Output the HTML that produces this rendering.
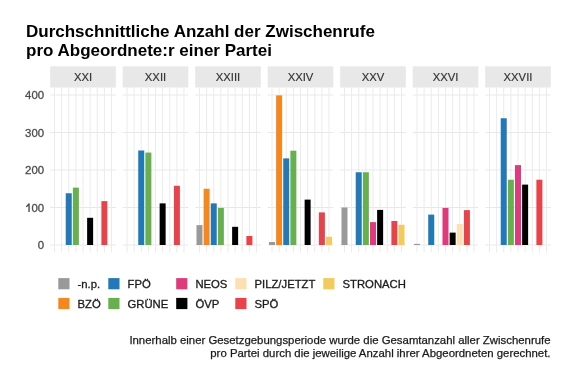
<!DOCTYPE html>
<html><head><meta charset="utf-8"><style>
html,body{margin:0;padding:0;background:#fff;width:576px;height:384px;overflow:hidden}
svg{display:block}
#w{width:576px;height:384px;will-change:transform}
text{font-family:'Liberation Sans',sans-serif}
.t{font-size:17px;font-weight:bold;fill:#000}
.ax{font-size:11.4px;fill:#4d4d4d;stroke:#4d4d4d;stroke-width:0.3px}
.st{font-size:11.3px;fill:#333;stroke:#333;stroke-width:0.15px}
.lg{font-size:11.3px;fill:#1a1a1a;stroke:#1a1a1a;stroke-width:0.3px}
.cap{font-size:11.39px;fill:#1a1a1a;stroke:#1a1a1a;stroke-width:0.25px}
</style></head><body><div id="w">
<svg width="576" height="384" viewBox="0 0 576 384">
<rect width="576" height="384" fill="#fff"/>
<text x="26" y="36.8" class="t">Durchschnittliche Anzahl der Zwischenrufe</text>
<text x="26" y="55.9" class="t">pro Abgeordnete:r einer Partei</text>
<text x="44.1" y="249.10" text-anchor="end" class="ax">0</text>
<text x="44.1" y="211.60" text-anchor="end" class="ax">00</text>
<path d="M28.1 203.5 L29.75 203.5 L29.75 212 L28.35 212 L28.35 206.0 Q27.3 206.9 26.0 207.2 L26.0 205.9 Q27.5 205.2 28.1 203.5 Z" fill="#4d4d4d"/>
<text x="44.1" y="174.10" text-anchor="end" class="ax">200</text>
<text x="44.1" y="136.60" text-anchor="end" class="ax">300</text>
<text x="44.1" y="99.10" text-anchor="end" class="ax">400</text>
<rect x="50.20" y="66.3" width="65.60" height="21.20" fill="#e8e8e8"/>
<text x="83.00" y="81" text-anchor="middle" class="st">XXI</text>
<rect x="50.20" y="244.55" width="65.60" height="0.9" fill="#e6e6e6"/>
<rect x="50.20" y="207.05" width="65.60" height="0.9" fill="#e6e6e6"/>
<rect x="50.20" y="169.55" width="65.60" height="0.9" fill="#e6e6e6"/>
<rect x="50.20" y="132.05" width="65.60" height="0.9" fill="#e6e6e6"/>
<rect x="50.20" y="94.55" width="65.60" height="0.9" fill="#e6e6e6"/>
<rect x="53.98" y="87.5" width="1" height="165.00" fill="#ebebeb"/>
<rect x="61.11" y="87.5" width="1" height="165.00" fill="#ebebeb"/>
<rect x="68.24" y="87.5" width="1" height="165.00" fill="#ebebeb"/>
<rect x="75.37" y="87.5" width="1" height="165.00" fill="#ebebeb"/>
<rect x="82.50" y="87.5" width="1" height="165.00" fill="#ebebeb"/>
<rect x="89.63" y="87.5" width="1" height="165.00" fill="#ebebeb"/>
<rect x="96.76" y="87.5" width="1" height="165.00" fill="#ebebeb"/>
<rect x="103.89" y="87.5" width="1" height="165.00" fill="#ebebeb"/>
<rect x="111.02" y="87.5" width="1" height="165.00" fill="#ebebeb"/>
<rect x="65.74" y="193.25" width="6.00" height="51.75" fill="#2378B7"/>
<rect x="72.87" y="187.62" width="6.00" height="57.38" fill="#68B04E"/>
<rect x="87.13" y="217.81" width="6.00" height="27.19" fill="#000000"/>
<rect x="101.39" y="201.12" width="6.00" height="43.88" fill="#E8434B"/>
<rect x="122.70" y="66.3" width="65.60" height="21.20" fill="#e8e8e8"/>
<text x="155.50" y="81" text-anchor="middle" class="st">XXII</text>
<rect x="122.70" y="244.55" width="65.60" height="0.9" fill="#e6e6e6"/>
<rect x="122.70" y="207.05" width="65.60" height="0.9" fill="#e6e6e6"/>
<rect x="122.70" y="169.55" width="65.60" height="0.9" fill="#e6e6e6"/>
<rect x="122.70" y="132.05" width="65.60" height="0.9" fill="#e6e6e6"/>
<rect x="122.70" y="94.55" width="65.60" height="0.9" fill="#e6e6e6"/>
<rect x="126.48" y="87.5" width="1" height="165.00" fill="#ebebeb"/>
<rect x="133.61" y="87.5" width="1" height="165.00" fill="#ebebeb"/>
<rect x="140.74" y="87.5" width="1" height="165.00" fill="#ebebeb"/>
<rect x="147.87" y="87.5" width="1" height="165.00" fill="#ebebeb"/>
<rect x="155.00" y="87.5" width="1" height="165.00" fill="#ebebeb"/>
<rect x="162.13" y="87.5" width="1" height="165.00" fill="#ebebeb"/>
<rect x="169.26" y="87.5" width="1" height="165.00" fill="#ebebeb"/>
<rect x="176.39" y="87.5" width="1" height="165.00" fill="#ebebeb"/>
<rect x="183.52" y="87.5" width="1" height="165.00" fill="#ebebeb"/>
<rect x="138.24" y="150.50" width="6.00" height="94.50" fill="#2378B7"/>
<rect x="145.37" y="152.56" width="6.00" height="92.44" fill="#68B04E"/>
<rect x="159.63" y="203.38" width="6.00" height="41.62" fill="#000000"/>
<rect x="173.89" y="185.75" width="6.00" height="59.25" fill="#E8434B"/>
<rect x="195.20" y="66.3" width="65.60" height="21.20" fill="#e8e8e8"/>
<text x="228.00" y="81" text-anchor="middle" class="st">XXIII</text>
<rect x="195.20" y="244.55" width="65.60" height="0.9" fill="#e6e6e6"/>
<rect x="195.20" y="207.05" width="65.60" height="0.9" fill="#e6e6e6"/>
<rect x="195.20" y="169.55" width="65.60" height="0.9" fill="#e6e6e6"/>
<rect x="195.20" y="132.05" width="65.60" height="0.9" fill="#e6e6e6"/>
<rect x="195.20" y="94.55" width="65.60" height="0.9" fill="#e6e6e6"/>
<rect x="198.98" y="87.5" width="1" height="165.00" fill="#ebebeb"/>
<rect x="206.11" y="87.5" width="1" height="165.00" fill="#ebebeb"/>
<rect x="213.24" y="87.5" width="1" height="165.00" fill="#ebebeb"/>
<rect x="220.37" y="87.5" width="1" height="165.00" fill="#ebebeb"/>
<rect x="227.50" y="87.5" width="1" height="165.00" fill="#ebebeb"/>
<rect x="234.63" y="87.5" width="1" height="165.00" fill="#ebebeb"/>
<rect x="241.76" y="87.5" width="1" height="165.00" fill="#ebebeb"/>
<rect x="248.89" y="87.5" width="1" height="165.00" fill="#ebebeb"/>
<rect x="256.02" y="87.5" width="1" height="165.00" fill="#ebebeb"/>
<rect x="196.48" y="225.12" width="6.00" height="19.88" fill="#999999"/>
<rect x="203.61" y="188.75" width="6.00" height="56.25" fill="#F5871F"/>
<rect x="210.74" y="203.38" width="6.00" height="41.62" fill="#2378B7"/>
<rect x="217.87" y="207.88" width="6.00" height="37.12" fill="#68B04E"/>
<rect x="232.13" y="226.81" width="6.00" height="18.19" fill="#000000"/>
<rect x="246.39" y="236.00" width="6.00" height="9.00" fill="#E8434B"/>
<rect x="267.70" y="66.3" width="65.60" height="21.20" fill="#e8e8e8"/>
<text x="300.50" y="81" text-anchor="middle" class="st">XXIV</text>
<rect x="267.70" y="244.55" width="65.60" height="0.9" fill="#e6e6e6"/>
<rect x="267.70" y="207.05" width="65.60" height="0.9" fill="#e6e6e6"/>
<rect x="267.70" y="169.55" width="65.60" height="0.9" fill="#e6e6e6"/>
<rect x="267.70" y="132.05" width="65.60" height="0.9" fill="#e6e6e6"/>
<rect x="267.70" y="94.55" width="65.60" height="0.9" fill="#e6e6e6"/>
<rect x="271.48" y="87.5" width="1" height="165.00" fill="#ebebeb"/>
<rect x="278.61" y="87.5" width="1" height="165.00" fill="#ebebeb"/>
<rect x="285.74" y="87.5" width="1" height="165.00" fill="#ebebeb"/>
<rect x="292.87" y="87.5" width="1" height="165.00" fill="#ebebeb"/>
<rect x="300.00" y="87.5" width="1" height="165.00" fill="#ebebeb"/>
<rect x="307.13" y="87.5" width="1" height="165.00" fill="#ebebeb"/>
<rect x="314.26" y="87.5" width="1" height="165.00" fill="#ebebeb"/>
<rect x="321.39" y="87.5" width="1" height="165.00" fill="#ebebeb"/>
<rect x="328.52" y="87.5" width="1" height="165.00" fill="#ebebeb"/>
<rect x="268.98" y="242.00" width="6.00" height="3.00" fill="#999999"/>
<rect x="276.11" y="95.38" width="6.00" height="149.62" fill="#F5871F"/>
<rect x="283.24" y="158.38" width="6.00" height="86.62" fill="#2378B7"/>
<rect x="290.37" y="150.69" width="6.00" height="94.31" fill="#68B04E"/>
<rect x="304.63" y="199.62" width="6.00" height="45.38" fill="#000000"/>
<rect x="318.89" y="212.38" width="6.00" height="32.62" fill="#E8434B"/>
<rect x="326.02" y="236.75" width="6.00" height="8.25" fill="#F1CB5E"/>
<rect x="340.20" y="66.3" width="65.60" height="21.20" fill="#e8e8e8"/>
<text x="373.00" y="81" text-anchor="middle" class="st">XXV</text>
<rect x="340.20" y="244.55" width="65.60" height="0.9" fill="#e6e6e6"/>
<rect x="340.20" y="207.05" width="65.60" height="0.9" fill="#e6e6e6"/>
<rect x="340.20" y="169.55" width="65.60" height="0.9" fill="#e6e6e6"/>
<rect x="340.20" y="132.05" width="65.60" height="0.9" fill="#e6e6e6"/>
<rect x="340.20" y="94.55" width="65.60" height="0.9" fill="#e6e6e6"/>
<rect x="343.98" y="87.5" width="1" height="165.00" fill="#ebebeb"/>
<rect x="351.11" y="87.5" width="1" height="165.00" fill="#ebebeb"/>
<rect x="358.24" y="87.5" width="1" height="165.00" fill="#ebebeb"/>
<rect x="365.37" y="87.5" width="1" height="165.00" fill="#ebebeb"/>
<rect x="372.50" y="87.5" width="1" height="165.00" fill="#ebebeb"/>
<rect x="379.63" y="87.5" width="1" height="165.00" fill="#ebebeb"/>
<rect x="386.76" y="87.5" width="1" height="165.00" fill="#ebebeb"/>
<rect x="393.89" y="87.5" width="1" height="165.00" fill="#ebebeb"/>
<rect x="401.02" y="87.5" width="1" height="165.00" fill="#ebebeb"/>
<rect x="341.48" y="207.50" width="6.00" height="37.50" fill="#999999"/>
<rect x="355.74" y="172.25" width="6.00" height="72.75" fill="#2378B7"/>
<rect x="362.87" y="172.25" width="6.00" height="72.75" fill="#68B04E"/>
<rect x="370.00" y="222.12" width="6.00" height="22.88" fill="#DE3A7C"/>
<rect x="377.13" y="209.90" width="6.00" height="35.10" fill="#000000"/>
<rect x="391.39" y="221.00" width="6.00" height="24.00" fill="#E8434B"/>
<rect x="398.52" y="224.75" width="6.00" height="20.25" fill="#F1CB5E"/>
<rect x="412.70" y="66.3" width="65.60" height="21.20" fill="#e8e8e8"/>
<text x="445.50" y="81" text-anchor="middle" class="st">XXVI</text>
<rect x="412.70" y="244.55" width="65.60" height="0.9" fill="#e6e6e6"/>
<rect x="412.70" y="207.05" width="65.60" height="0.9" fill="#e6e6e6"/>
<rect x="412.70" y="169.55" width="65.60" height="0.9" fill="#e6e6e6"/>
<rect x="412.70" y="132.05" width="65.60" height="0.9" fill="#e6e6e6"/>
<rect x="412.70" y="94.55" width="65.60" height="0.9" fill="#e6e6e6"/>
<rect x="416.48" y="87.5" width="1" height="165.00" fill="#ebebeb"/>
<rect x="423.61" y="87.5" width="1" height="165.00" fill="#ebebeb"/>
<rect x="430.74" y="87.5" width="1" height="165.00" fill="#ebebeb"/>
<rect x="437.87" y="87.5" width="1" height="165.00" fill="#ebebeb"/>
<rect x="445.00" y="87.5" width="1" height="165.00" fill="#ebebeb"/>
<rect x="452.13" y="87.5" width="1" height="165.00" fill="#ebebeb"/>
<rect x="459.26" y="87.5" width="1" height="165.00" fill="#ebebeb"/>
<rect x="466.39" y="87.5" width="1" height="165.00" fill="#ebebeb"/>
<rect x="473.52" y="87.5" width="1" height="165.00" fill="#ebebeb"/>
<rect x="413.98" y="243.88" width="6.00" height="1.12" fill="#999999"/>
<rect x="428.24" y="214.62" width="6.00" height="30.38" fill="#2378B7"/>
<rect x="442.50" y="207.88" width="6.00" height="37.12" fill="#DE3A7C"/>
<rect x="449.63" y="232.62" width="6.00" height="12.38" fill="#000000"/>
<rect x="456.76" y="224.00" width="6.00" height="21.00" fill="#FCE0B4"/>
<rect x="463.89" y="210.12" width="6.00" height="34.88" fill="#E8434B"/>
<rect x="485.20" y="66.3" width="65.60" height="21.20" fill="#e8e8e8"/>
<text x="518.00" y="81" text-anchor="middle" class="st">XXVII</text>
<rect x="485.20" y="244.55" width="65.60" height="0.9" fill="#e6e6e6"/>
<rect x="485.20" y="207.05" width="65.60" height="0.9" fill="#e6e6e6"/>
<rect x="485.20" y="169.55" width="65.60" height="0.9" fill="#e6e6e6"/>
<rect x="485.20" y="132.05" width="65.60" height="0.9" fill="#e6e6e6"/>
<rect x="485.20" y="94.55" width="65.60" height="0.9" fill="#e6e6e6"/>
<rect x="488.98" y="87.5" width="1" height="165.00" fill="#ebebeb"/>
<rect x="496.11" y="87.5" width="1" height="165.00" fill="#ebebeb"/>
<rect x="503.24" y="87.5" width="1" height="165.00" fill="#ebebeb"/>
<rect x="510.37" y="87.5" width="1" height="165.00" fill="#ebebeb"/>
<rect x="517.50" y="87.5" width="1" height="165.00" fill="#ebebeb"/>
<rect x="524.63" y="87.5" width="1" height="165.00" fill="#ebebeb"/>
<rect x="531.76" y="87.5" width="1" height="165.00" fill="#ebebeb"/>
<rect x="538.89" y="87.5" width="1" height="165.00" fill="#ebebeb"/>
<rect x="546.02" y="87.5" width="1" height="165.00" fill="#ebebeb"/>
<rect x="500.74" y="118.25" width="6.00" height="126.75" fill="#2378B7"/>
<rect x="507.87" y="179.75" width="6.00" height="65.25" fill="#68B04E"/>
<rect x="515.00" y="165.12" width="6.00" height="79.88" fill="#DE3A7C"/>
<rect x="522.13" y="184.62" width="6.00" height="60.38" fill="#000000"/>
<rect x="536.39" y="179.75" width="6.00" height="65.25" fill="#E8434B"/>
<rect x="58.3" y="278.1" width="11.2" height="11.2" fill="#999999"/>
<text x="77.50" y="287.70" class="lg">-n.p.</text>
<rect x="58.3" y="297.9" width="11.2" height="11.2" fill="#F5871F"/>
<text x="77.50" y="307.50" class="lg">BZÖ</text>
<rect x="108.3" y="278.1" width="11.2" height="11.2" fill="#2378B7"/>
<text x="127.50" y="287.70" class="lg">FPÖ</text>
<rect x="108.3" y="297.9" width="11.2" height="11.2" fill="#68B04E"/>
<text x="127.50" y="307.50" class="lg">GRÜNE</text>
<rect x="176.2" y="278.1" width="11.2" height="11.2" fill="#DE3A7C"/>
<text x="195.40" y="287.70" class="lg">NEOS</text>
<rect x="176.2" y="297.9" width="11.2" height="11.2" fill="#000000"/>
<text x="195.40" y="307.50" class="lg">ÖVP</text>
<rect x="235.3" y="278.1" width="11.2" height="11.2" fill="#FCE0B4"/>
<text x="254.50" y="287.70" class="lg">PILZ/JETZT</text>
<rect x="235.3" y="297.9" width="11.2" height="11.2" fill="#E8434B"/>
<text x="254.50" y="307.50" class="lg">SPÖ</text>
<rect x="323.3" y="278.1" width="11.2" height="11.2" fill="#F1CB5E"/>
<text x="342.50" y="287.70" class="lg">STRONACH</text>
<text x="550.5" y="344" text-anchor="end" class="cap">Innerhalb einer Gesetzgebungsperiode wurde die Gesamtanzahl aller Zwischenrufe</text>
<text x="550.5" y="357.4" text-anchor="end" class="cap">pro Partei durch die jeweilige Anzahl ihrer Abgeordneten gerechnet.</text>
</svg></div>
</body></html>
